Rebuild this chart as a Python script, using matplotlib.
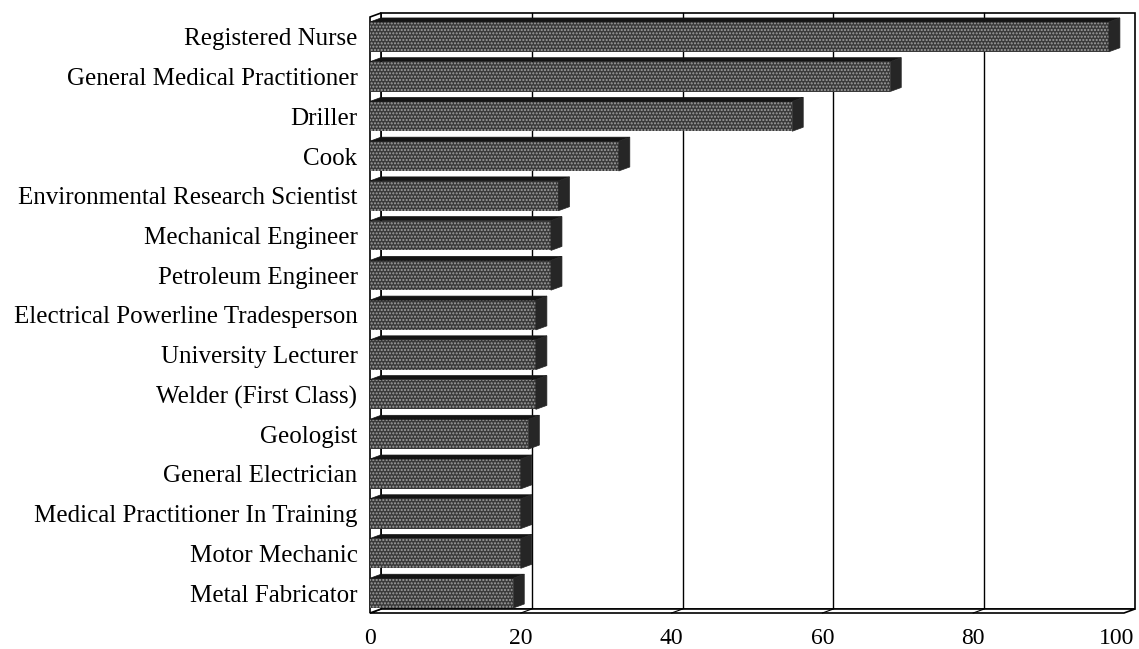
import matplotlib.pyplot as plt
from matplotlib.patches import Polygon, Rectangle
from matplotlib.transforms import ScaledTranslation
import numpy as np

# data (top to bottom)
occupations = ['Registered Nurse', 'General Medical Practitioner', 'Driller', 'Cook',
               'Environmental Research Scientist', 'Mechanical Engineer', 'Petroleum Engineer',
               'Electrical Powerline Tradesperson', 'University Lecturer', 'Welder (First Class)',
               'Geologist', 'General Electrician', 'Medical Practitioner In Training',
               'Motor Mechanic', 'Metal Fabricator']
values = [98, 69, 56, 33, 25, 24, 24, 22, 22, 22, 21, 20, 20, 20, 19]
xticks = [0, 20, 40, 60, 80, 100]

plt.rcParams['font.family'] = ['Liberation Serif', 'DejaVu Serif']

W, H = 1139, 649
fig = plt.figure(figsize=(W / 100, H / 100), dpi=100)
left, right, top, bottom = 370, 1124, 17, 613
ax = fig.add_axes([left / W, 1 - bottom / H, (right - left) / W, (bottom - top) / H])

n = len(occupations)
y = np.arange(n)
ax.set_xlim(0, 100)
ax.set_ylim(n - 0.5, -0.5)

# depth of the fake 3D box, in data units
ddx = 11 / ((right - left) / 100)
ddy = -4 / ((bottom - top) / n)
y0, y1 = n - 0.5, -0.5

# back wall + gridlines
ax.add_patch(Rectangle((ddx, y1 + ddy), 100, n, facecolor='white', edgecolor='black',
                       lw=1.2, clip_on=False, zorder=0))
for t in xticks[1:-1]:
    ax.plot([t + ddx, t + ddx], [y0 + ddy, y1 + ddy], color='black', lw=1.0,
            clip_on=False, zorder=1)

# floor and left wall
ax.add_patch(Polygon([(0, y0), (100, y0), (100 + ddx, y0 + ddy), (ddx, y0 + ddy)],
                     closed=True, facecolor='white', edgecolor='black', lw=1.2,
                     clip_on=False, zorder=1))
for t in xticks[1:-1]:
    ax.plot([t, t + ddx], [y0, y0 + ddy], color='black', lw=0.8, clip_on=False, zorder=1)
ax.add_patch(Polygon([(0, y0), (0, y1), (ddx, y1 + ddy), (ddx, y0 + ddy)],
                     closed=True, facecolor='white', edgecolor='black', lw=1.2,
                     clip_on=False, zorder=1))

# bars: front face, top face, end face
h = 0.75
ax.barh(y, values, height=h, color='#3a3a3a', edgecolor='#a0a0a0', hatch='.....',
        linewidth=0, zorder=3)
for yi, v in zip(y, values):
    t = yi - h / 2
    b = yi + h / 2
    ax.add_patch(Polygon([(0, t), (v, t), (v + ddx, t + ddy), (ddx, t + ddy)],
                         closed=True, facecolor='#141414', edgecolor='#141414', lw=0.5,
                         clip_on=False, zorder=3))
    ax.add_patch(Polygon([(v, t), (v, b), (v + ddx, b + ddy), (v + ddx, t + ddy)],
                         closed=True, facecolor='#262626', edgecolor='#262626', lw=0.5,
                         clip_on=False, zorder=3))

ax.set_yticks(y)
ax.set_yticklabels(occupations, fontsize=18)
ax.set_xticks(xticks)
ax.set_xticklabels([str(t) for t in xticks], fontsize=17)
ax.tick_params(axis='y', length=0, pad=9)
ax.tick_params(axis='x', length=0, pad=11)
for s in ax.spines.values():
    s.set_visible(False)

# keep "100" inside the picture
lab = ax.get_xticklabels()[-1]
lab.set_transform(lab.get_transform() + ScaledTranslation(-0.07, 0, fig.dpi_scale_trans))

plt.savefig('out.png', dpi=100)
